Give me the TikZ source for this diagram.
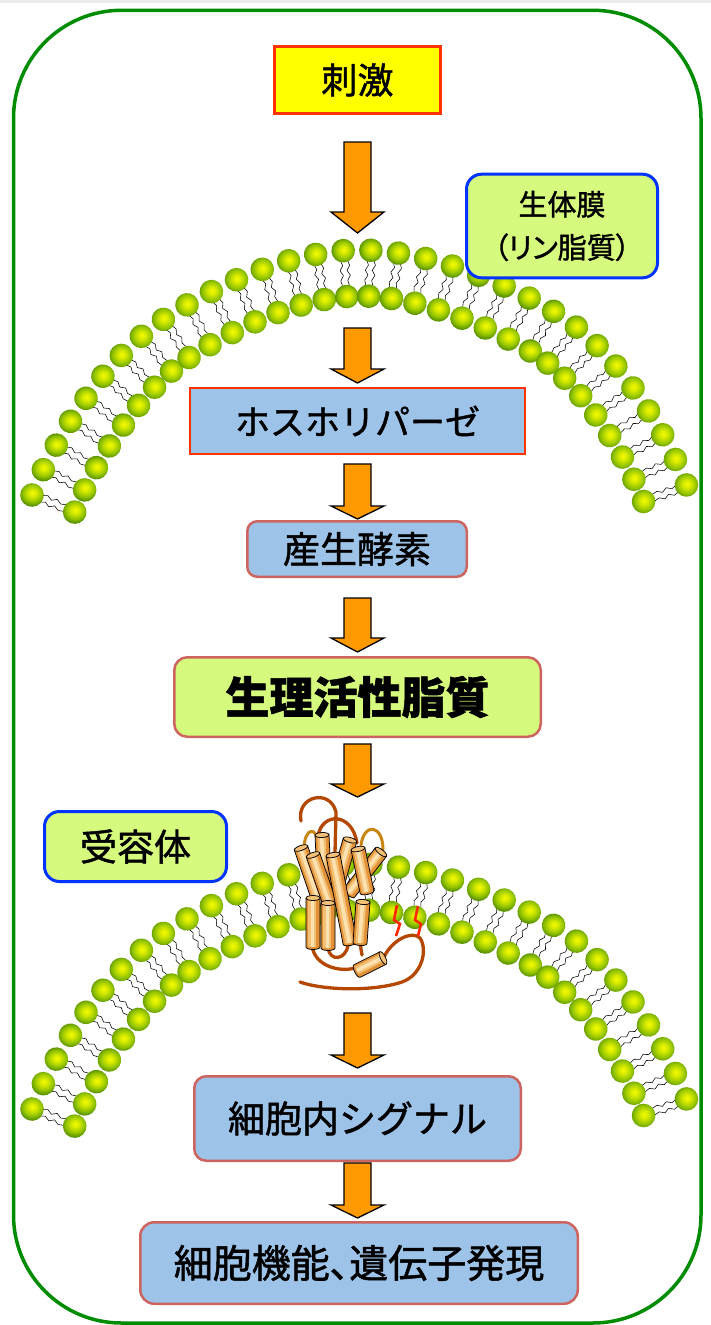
\documentclass[tikz,border=0pt]{standalone}
\usepackage{fontspec}
\newfontfamily\jp{Noto Sans CJK JP}[RawFeature={embolden=1.3}]
\newfontfamily\jpp{Noto Sans CJK JP}[RawFeature={+palt;embolden=1.3}]
\usetikzlibrary{decorations.markings}
\definecolor{frameG}{RGB}{0,140,0}
\definecolor{stimY}{RGB}{255,255,0}
\definecolor{redB}{RGB}{255,51,0}
\definecolor{lgreen}{RGB}{214,250,125}
\definecolor{blueB}{RGB}{0,51,255}
\definecolor{lblue}{RGB}{158,195,232}
\definecolor{pinkB}{RGB}{205,100,95}
\definecolor{arrowO}{RGB}{255,153,0}
\definecolor{lipA}{RGB}{245,250,0}
\definecolor{lipB}{RGB}{215,235,0}
\definecolor{lipC}{RGB}{150,198,0}
\definecolor{lipD}{RGB}{92,148,0}
\definecolor{cylA}{RGB}{226,145,55}
\definecolor{cylB}{RGB}{243,192,118}
\definecolor{cylC}{RGB}{253,226,178}
\definecolor{loopBr}{RGB}{180,72,0}
\definecolor{loopGd}{RGB}{200,135,20}
\definecolor{palmR}{RGB}{255,40,0}
\pgfdeclareradialshading{lipidball}{\pgfpoint{1bp}{2bp}}{color(0bp)=(lipA); color(7bp)=(lipB); color(17bp)=(lipC); color(25bp)=(lipD); color(50bp)=(lipD)}
\newcommand\lipidunit{%
  \foreach \s in {-3.5,3.5}{%
    \draw[tail] (\s,-10) -- ++(1.8,-5) -- ++(-3,-5) -- ++(3,-5) -- ++(-3,-5) -- ++(1.2,-5);
  }%
  \shade[shading=lipidball] (0,0) circle (11.8);
  \shade[shading=lipidball] (0,-46) circle (11.8);
}
\newcommand\protcyl[4]{%
  \pgfmathsetmacro\cyang{atan2((#2)-(#4),(#3)-(#1))}%
  \pgfmathsetmacro\cylen{veclen((#3)-(#1),(#4)-(#2))}%
  \begin{scope}[shift={(#1,-#2)}, rotate=\cyang]
    \fill[cylA] (0,-7) -- (\cylen,-7) arc[start angle=-90,end angle=90,x radius=2.5,y radius=7] -- (0,7) -- cycle;
    \fill[cylB] (0,-4.6) rectangle (\cylen,3.4);
    \fill[cylC] (0,-2.2) rectangle (\cylen,1.2);
    \draw[cylline] (0,-7) -- (\cylen,-7) arc[start angle=-90,end angle=90,x radius=2.5,y radius=7] -- (0,7);
    \filldraw[cylline, fill=cylB] (0,0) ellipse[x radius=2.5, y radius=7];
  \end{scope}}
\tikzset{
  tail/.style={black, line width=0.55pt, line join=round},
  cylline/.style={black, line width=0.75pt},
  loopA/.style={loopBr, line width=3.3pt, line cap=round},
  loopB/.style={loopGd, line width=3pt, line cap=round},
  palm/.style={palmR, line width=2.6pt, line join=miter},
  blockarrow/.style={fill=arrowO, draw=black, line width=1.3pt, line join=miter},
  pics/flowarrow/.style 2 args={code={
    \filldraw[blockarrow] (-13.5,0) -- (-13.5,-#1) -- (-26.5,-#1) -- (0,-#2) -- (26.5,-#1) -- (13.5,-#1) -- (13.5,0) -- cycle;}},
  membrane/.style={decorate, decoration={markings, mark=between positions 0pt and 1 step 27.76pt with {\lipidunit}}},
  box/.style={inner sep=0pt, align=center, text=black},
  stimbox/.style={box, fill=stimY, draw=redB, line width=3.3pt, minimum width=166pt, minimum height=67pt, font={\jp\fontsize{36}{40}\selectfont}},
  labelbox/.style={box, fill=lgreen, draw=blueB, line width=3pt, rounded corners=15pt},
  redbox/.style={box, fill=lblue, draw=redB, line width=2.2pt},
  bluebox/.style={box, fill=lblue, draw=pinkB, line width=2.5pt, rounded corners=12pt},
  greenbox/.style={box, fill=lgreen, draw=pinkB, line width=2.5pt, rounded corners=13pt},
}
\begin{document}
\begin{tikzpicture}[x=1pt,y=1pt]
\useasboundingbox (0,0) rectangle (711,-1325);
\fill[white] (0,0) rectangle (711,-1325);
\fill[black!8] (0,0) rectangle (711,-2.5);
% outer cell frame
\draw[frameG, line width=3.5pt, rounded corners=108pt] (13.5,-10.3) rectangle (701,-1323);

% top membrane
\path[membrane] (32,-495) .. controls (50,-450) and (100,-360) .. (167,-317) .. controls (230,-277) and (300,-250) .. (360,-250) .. controls (420,-250) and (490,-275) .. (553,-311) .. controls (620,-350) and (670,-440) .. (688,-489);
% bottom membrane
\begin{scope}[yshift=-614pt]
\path[membrane] (32,-495) .. controls (50,-450) and (100,-360) .. (167,-317) .. controls (230,-277) and (300,-250) .. (360,-250) .. controls (420,-250) and (490,-275) .. (553,-311) .. controls (620,-350) and (670,-440) .. (688,-489);
\end{scope}

% boxes
\node[stimbox] (stim) at (357.4,-80) {刺激};
\node[labelbox, minimum width=191pt, minimum height=103.6pt, font={\jp\fontsize{29}{43}\selectfont}] (memlabel) at (562,-226) {生体膜\\{\jpp （リン脂質）}};
\node[redbox, minimum width=334.8pt, minimum height=65.8pt, font={\jp\fontsize{35}{40}\selectfont}] (plase) at (357.5,-421) {ホスホリパーゼ};
\node[bluebox, rounded corners=10pt, minimum width=219.5pt, minimum height=55.5pt, font={\jp\fontsize{37}{40}\selectfont}] (enzyme) at (357,-549) {産生酵素};
\node[greenbox, minimum width=366.5pt, minimum height=79.5pt, font={\jp\bfseries\fontsize{44}{48}\selectfont}] (lipid) at (357.5,-697) {生理活性脂質};
\node[labelbox, minimum width=182pt, minimum height=70pt, font={\jp\fontsize{37}{40}\selectfont}] (receptor) at (135.5,-846.5) {受容体};
\node[bluebox, minimum width=326.5pt, minimum height=84.5pt, font={\jp\fontsize{37}{40}\selectfont}] (signal) at (357.5,-1118.5) {細胞内シグナル};
\node[bluebox, rounded corners=14pt, minimum width=437.5pt, minimum height=81.5pt, font={\jpp\fontsize{39}{42}\selectfont}] (func) at (359,-1263) {細胞機能、遺伝子発現};

% block arrows
\pic at (357.5,-142) {flowarrow={70}{91}};
\pic at (357.5,-328) {flowarrow={41}{55}};
\pic at (357.5,-464) {flowarrow={42}{55}};
\pic at (357.5,-598) {flowarrow={40}{54}};
\pic at (357.5,-744) {flowarrow={40}{53}};
\pic at (357.5,-1013) {flowarrow={42}{55}};
\pic at (357.5,-1163) {flowarrow={42}{55}};

% receptor protein
\draw[loopA] (301,-821) .. controls (296,-796) and (330,-788) .. (336,-812) -- (335,-853);
\draw[loopA] (318,-836) .. controls (322,-812) and (352,-812) .. (357,-843);
\draw[loopB] (304,-850) .. controls (304,-826) and (318,-826) .. (318,-845);
\draw[loopB] (361,-845) .. controls (364,-822) and (384,-824) .. (383,-852);
\draw[loopA] (312,-945) .. controls (314,-968) and (345,-974) .. (360,-966);
\draw[loopA] (328,-948) .. controls (330,-962) and (346,-960) .. (348,-945);
\draw[loopA] (360,-943) -- (362,-955);
\draw[loopA] (384,-957) .. controls (392,-940) and (412,-930) .. (420,-938) .. controls (428,-950) and (422,-975) .. (402,-982) .. controls (372,-992) and (322,-990) .. (300,-982);
\protcyl{322}{835}{325}{898}
\protcyl{350}{840}{338}{882}
\protcyl{381}{852}{349}{893}
\protcyl{358}{849}{367}{892}
\protcyl{301}{848}{320}{903}
\protcyl{313}{855}{330}{904}
\protcyl{313}{898}{313}{947}
\protcyl{328}{903}{328}{948}
\protcyl{333}{855}{350}{943}
\protcyl{363}{902}{360}{943}
\protcyl{383}{958}{357}{971}
\draw[palm] (397,-905) -- (394,-920) -- (400,-924) -- (396,-936);
\draw[palm] (418,-906) -- (415,-920) -- (421,-924) -- (418,-936);
\end{tikzpicture}
\end{document}
